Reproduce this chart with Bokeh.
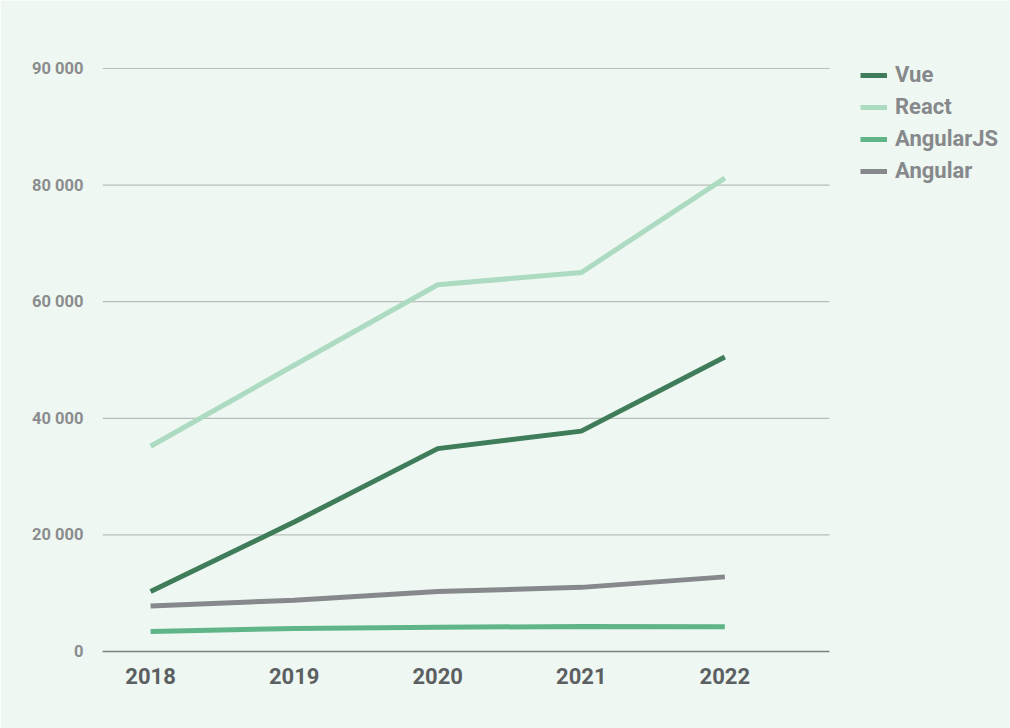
from bokeh.plotting import figure
from bokeh.models import Legend, LegendItem, FixedTicker, Range1d
from bokeh.embed import file_html
from bokeh.resources import INLINE

years = [2018, 2019, 2020, 2021, 2022]
vue = [10300, 22200, 34800, 37800, 50500]
react = [35200, 49100, 62900, 65000, 81200]
angularjs = [3450, 3950, 4150, 4300, 4250]
angular = [7800, 8800, 10300, 11000, 12800]

y_ticks = [0, 20000, 40000, 60000, 80000, 100000]
y_tick_labels = ["0", "20 000", "40 000", "60 000", "80 000", "90 000"]

BG = "#eef7f1"
FONT = "Roboto"

X_START, X_END = 2017.665, 2022.73   # extent of the plotted area
p = figure(width=1010, height=728, output_backend="svg", toolbar_location=None,
           x_range=Range1d(X_START, 2023.99), y_range=Range1d(0, 108233),
           min_border_left=102, min_border_right=0, min_border_top=20, min_border_bottom=77)
p.background_fill_color = BG
p.border_fill_color = BG
p.outline_line_color = None

# horizontal grid lines limited to the plot area
grid_vals = y_ticks[1:]
p.segment(x0=[X_START] * len(grid_vals), x1=[X_END] * len(grid_vals),
          y0=grid_vals, y1=grid_vals, line_color="#b7bfba", line_width=1.2)

series = [("Vue", vue, "#3f7c59"), ("React", react, "#acdbc2"),
          ("AngularJS", angularjs, "#5fb488"), ("Angular", angular, "#86888b")]
items = []
for name, vals, col in series:
    r = p.line(years, vals, line_color=col, line_width=5)
    items.append(LegendItem(label=name, renderers=[r]))

# axes
p.xaxis.ticker = FixedTicker(ticks=years)
p.xaxis.bounds = (X_START, X_END)
p.xaxis.axis_line_color = "#7d817e"
p.xaxis.axis_line_width = 1.5
p.xaxis.major_tick_line_color = None
p.xaxis.minor_tick_line_color = None
p.xaxis.major_tick_out = 0
p.xaxis.minor_tick_out = 0
p.xaxis.major_label_text_font = FONT
p.xaxis.major_label_text_font_style = "bold"
p.xaxis.major_label_text_font_size = "22px"
p.xaxis.major_label_text_color = "#5c5f62"
p.xaxis.major_label_standoff = 16

p.yaxis.ticker = FixedTicker(ticks=y_ticks)
p.yaxis.major_label_overrides = {t: l for t, l in zip(y_ticks, y_tick_labels)}
p.yaxis.axis_line_color = None
p.yaxis.major_tick_line_color = None
p.yaxis.minor_tick_line_color = None
p.yaxis.major_tick_out = 0
p.yaxis.minor_tick_out = 0
p.yaxis.major_label_text_font = FONT
p.yaxis.major_label_text_font_style = "bold"
p.yaxis.major_label_text_font_size = "16.5px"
p.yaxis.major_label_text_color = "#8a8c8e"
p.yaxis.major_label_standoff = 19

p.xgrid.grid_line_color = None
p.ygrid.grid_line_color = None

legend = Legend(items=items, location=(758, 468))
legend.border_line_color = None
legend.background_fill_alpha = 0
legend.margin = 0
legend.padding = 0
legend.glyph_width = 27
legend.glyph_height = 22
legend.label_height = 22
legend.spacing = 7
legend.label_standoff = 8
legend.label_text_font = FONT
legend.label_text_font_style = "bold"
legend.label_text_font_size = "22px"
legend.label_text_color = "#86888b"
p.add_layout(legend, "center")

open("out.html", "w").write(file_html(p, INLINE))
